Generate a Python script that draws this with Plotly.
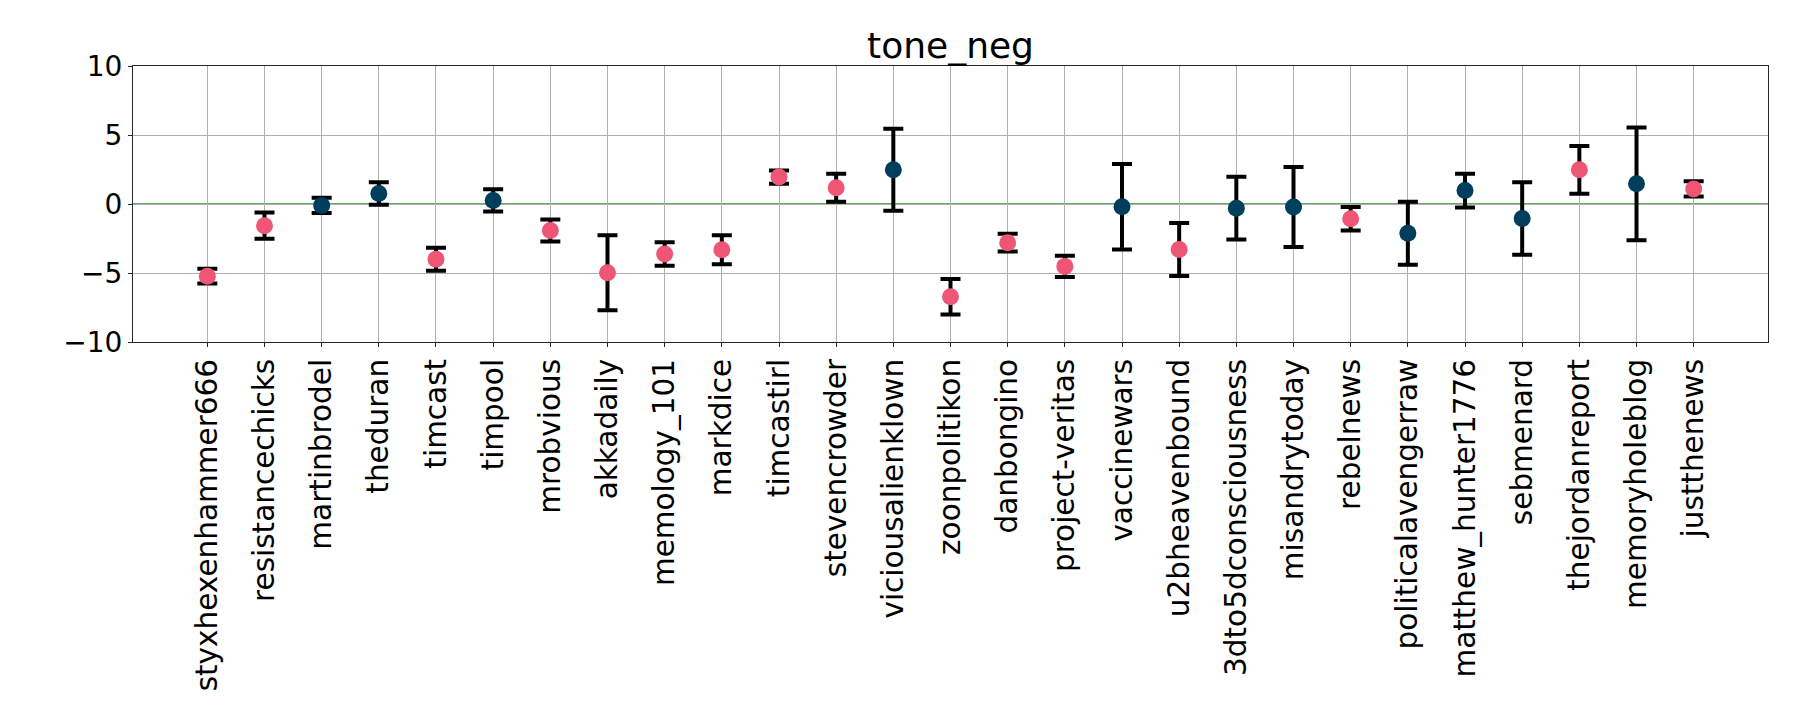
import plotly.graph_objects as go

PINK = "#ef5675"
NAVY = "#003f5c"
GRID = "#b0b0b0"
FRAME = "#262626"
FONT = "DejaVu Sans"

channels = [
    "styxhexenhammer666", "resistancechicks", "martinbrodel", "theduran", "timcast",
    "timpool", "mrobvious", "akkadaily", "memology_101", "markdice", "timcastirl",
    "stevencrowder", "viciousalienklown", "zoonpolitikon", "danbongino", "project-veritas",
    "vaccinewars", "u2bheavenbound", "3dto5dconsciousness", "misandrytoday", "rebelnews",
    "politicalavengerraw", "matthew_hunter1776", "sebmenard", "thejordanreport",
    "memoryholeblog", "justthenews",
]
tone_neg = [
    -5.23, -1.57, -0.10, 0.76, -4.00,
    0.26, -1.92, -4.98, -3.62, -3.32, 1.95,
    1.18, 2.48, -6.72, -2.80, -4.52,
    -0.20, -3.30, -0.30, -0.22, -1.07,
    -2.12, 0.97, -1.05, 2.48,
    1.46, 1.09,
]
err = [
    0.53, 0.95, 0.55, 0.81, 0.83,
    0.80, 0.80, 2.72, 0.85, 1.05, 0.48,
    1.01, 2.97, 1.28, 0.65, 0.77,
    3.09, 1.92, 2.28, 2.90, 0.85,
    2.28, 1.22, 2.63, 1.73,
    4.09, 0.55,
]

# navy where the interval crosses zero
colors = [NAVY if abs(v) < e else PINK for v, e in zip(tone_neg, err)]

fig = go.Figure()
fig.add_trace(go.Scatter(
    x=channels, y=tone_neg, mode="markers",
    marker=dict(size=17, color=colors, line=dict(width=0)),
    error_y=dict(type="data", array=err, visible=True, color="black", thickness=4, width=10),
    showlegend=False,
))

# page body adds an 8px offset, margins account for it
fig.update_layout(
    width=1800, height=720,
    margin=dict(l=125, r=40, t=58, b=386, autoexpand=False),
    plot_bgcolor="white", paper_bgcolor="white",
    font=dict(family=FONT, color="black"),
    title=dict(text="tone_neg", x=0.5, xref="paper", xanchor="center",
               y=1, yref="paper", yanchor="bottom", pad=dict(b=8),
               font=dict(size=36, family=FONT, color="black")),
    xaxis=dict(
        type="category", range=[-1.3, 27.3], tickangle=-90,
        showgrid=True, gridcolor=GRID, gridwidth=1,
        showline=True, linecolor=FRAME, linewidth=1.2, mirror=True,
        ticks="outside", ticklen=4, tickcolor=FRAME,
        tickfont=dict(size=29.5, family=FONT, color="black"),
    ),
    yaxis=dict(
        range=[-10, 10], tickvals=[-10, -5, 0, 5, 10],
        ticktext=["\u221210", "\u22125", "0", "5", "10"],
        showgrid=True, gridcolor=GRID, gridwidth=1, zeroline=False,
        showline=True, linecolor=FRAME, linewidth=1.2, mirror=True,
        ticks="outside", ticklen=4, tickcolor=FRAME,
        tickfont=dict(size=28, family=FONT, color="black"),
    ),
    shapes=[dict(type="line", xref="paper", x0=0, x1=1, yref="y", y0=0, y1=0,
                 line=dict(color="#2a8f2a", width=1.4), layer="below")],
)

fig.write_html("out.html")
